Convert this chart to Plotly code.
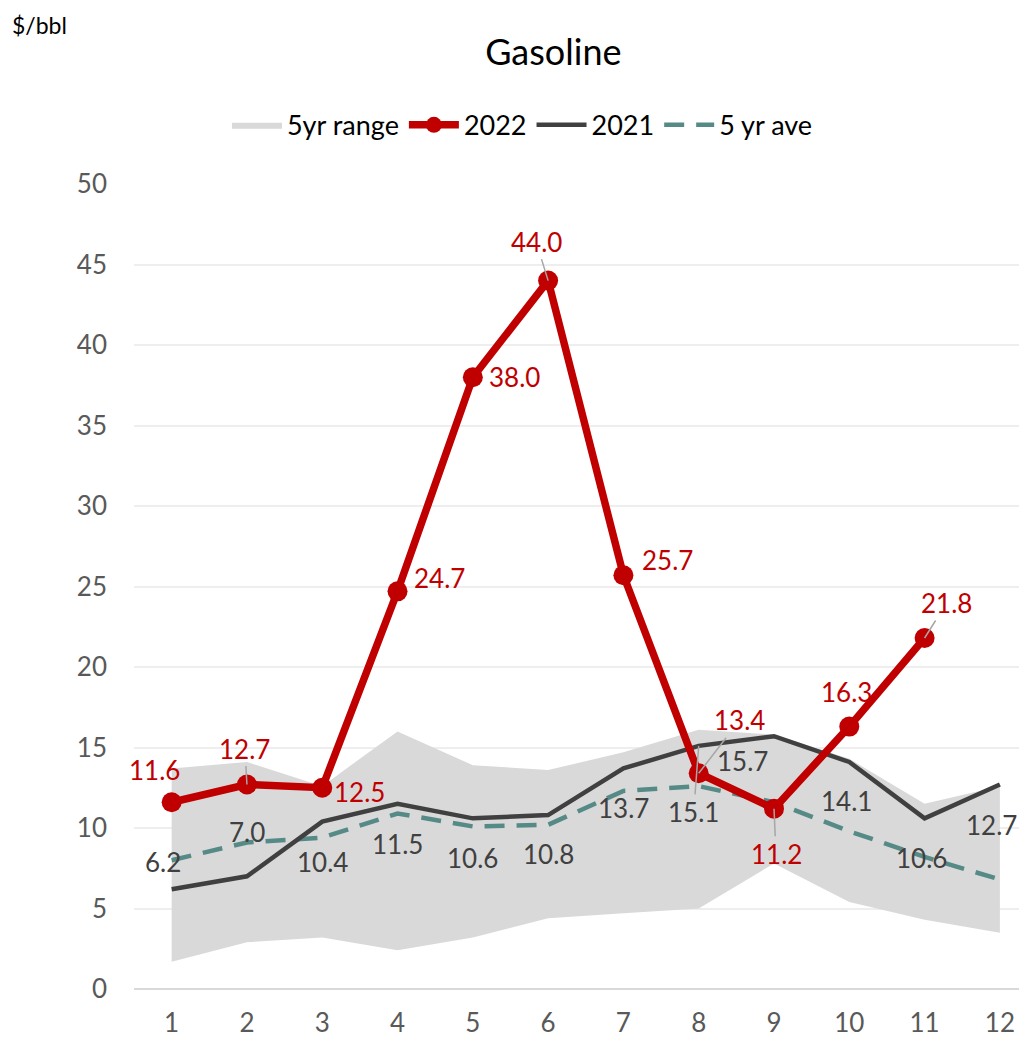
import plotly.graph_objects as go

# Monthly gasoline crack, $/bbl
months = list(range(1, 13))
y2022 = [11.6, 12.7, 12.5, 24.7, 38.0, 44.0, 25.7, 13.4, 11.2, 16.3, 21.8]
y2021 = [6.2, 7.0, 10.4, 11.5, 10.6, 10.8, 13.7, 15.1, 15.7, 14.1, 10.6, 12.7]
ave5 = [8.0, 9.1, 9.4, 10.9, 10.1, 10.2, 12.3, 12.6, 11.6, 9.8, 8.2, 6.8]
range_hi = [13.7, 14.1, 12.6, 16.0, 13.9, 13.6, 14.7, 16.1, 15.8, 14.3, 11.5, 12.6]
range_lo = [1.7, 2.9, 3.2, 2.4, 3.2, 4.4, 4.7, 5.0, 7.8, 5.4, 4.3, 3.5]

# label offsets in pixels (dx right, dy up) and whether a leader line is drawn
off2022 = [(-17, 32, False), (-2, 36, True), (37, -4, False), (42, 13, False),
           (42, 0, False), (-12, 39, True), (44, 15, False), (41, 53, True),
           (2, -45, True), (-3, 35, False), (22, 35, True)]
off2021 = [(-9, 27, False), (0, 44, False), (0, -40, False), (0, -40, False),
           (0, -40, False), (0, -39, False), (0, -40, False), (-5, -66, True),
           (-32, -25, False), (-3, -39, False), (-3, -40, False), (-8, -40, False)]

RED = "#C00000"
DARK = "#404040"
TEAL = "#568A87"
FONT = "Lato"

fig = go.Figure()
fig.add_trace(go.Scatter(x=months, y=range_lo, mode="lines", line=dict(width=0),
                         showlegend=False, hoverinfo="skip"))
fig.add_trace(go.Scatter(x=months, y=range_hi, mode="lines", line=dict(width=0),
                         fill="tonexty", fillcolor="#D9D9D9", name="5yr range",
                         legendrank=1))
fig.add_trace(go.Scatter(x=months, y=ave5, mode="lines", name="5 yr ave",
                         line=dict(color=TEAL, width=4.5, dash="20px,12px"), legendrank=4))
fig.add_trace(go.Scatter(x=months, y=y2021, mode="lines", name="2021",
                         line=dict(color=DARK, width=4.5), legendrank=3))
fig.add_trace(go.Scatter(x=months[:len(y2022)], y=y2022, mode="lines+markers", name="2022",
                         line=dict(color=RED, width=7.5), marker=dict(size=20, color=RED),
                         legendrank=2))

def add_labels(vals, offs, color):
    for m, v, (dx, dy, lead) in zip(months, vals, offs):
        if lead:
            fig.add_annotation(x=m, y=v, text=f"{v:.1f}", showarrow=True, ax=dx, ay=-dy,
                               arrowhead=0, arrowwidth=1.5, arrowcolor="#A6A6A6",
                               standoff=0, font=dict(family=FONT, size=26, color=color))
        else:
            fig.add_annotation(x=m, y=v, text=f"{v:.1f}", showarrow=False,
                               xshift=dx, yshift=dy,
                               font=dict(family=FONT, size=26, color=color))

add_labels(y2022, off2022, RED)
add_labels(y2021, off2021, DARK)

fig.add_annotation(text="$/bbl", xref="paper", yref="paper", x=-0.139, y=1.197,
                   xanchor="left", yanchor="middle", showarrow=False,
                   font=dict(family=FONT, size=23, color="#000000"))

fig.update_layout(
    width=1027, height=1047,
    margin=dict(l=126, r=8, t=176, b=66),
    paper_bgcolor="white", plot_bgcolor="white",
    font=dict(family=FONT, color="#595959"),
    title=dict(text="Gasoline", x=0.531, xanchor="center", y=0.958, yanchor="middle",
               font=dict(family=FONT, size=36, color="#000000")),
    legend=dict(orientation="h", x=0.435, xanchor="center", y=1.073, yanchor="middle",
                font=dict(family=FONT, size=27, color="#000000"), traceorder="normal",
                itemwidth=50),
    showlegend=True,
)
fig.update_xaxes(range=[0.5, 12.36], tickvals=months, showgrid=False, zeroline=False,
                 showline=False, ticks="", ticklabelstandoff=16,
                 tickfont=dict(family=FONT, size=26, color="#595959"))
fig.update_yaxes(range=[0, 50], dtick=5, showgrid=True, gridcolor="#EEEEEE", gridwidth=2,
                 zeroline=True, zerolinecolor="#D9D9D9", zerolinewidth=2,
                 tickfont=dict(family=FONT, size=26, color="#595959"), ticklabelstandoff=26)

fig.write_html("out.html")
